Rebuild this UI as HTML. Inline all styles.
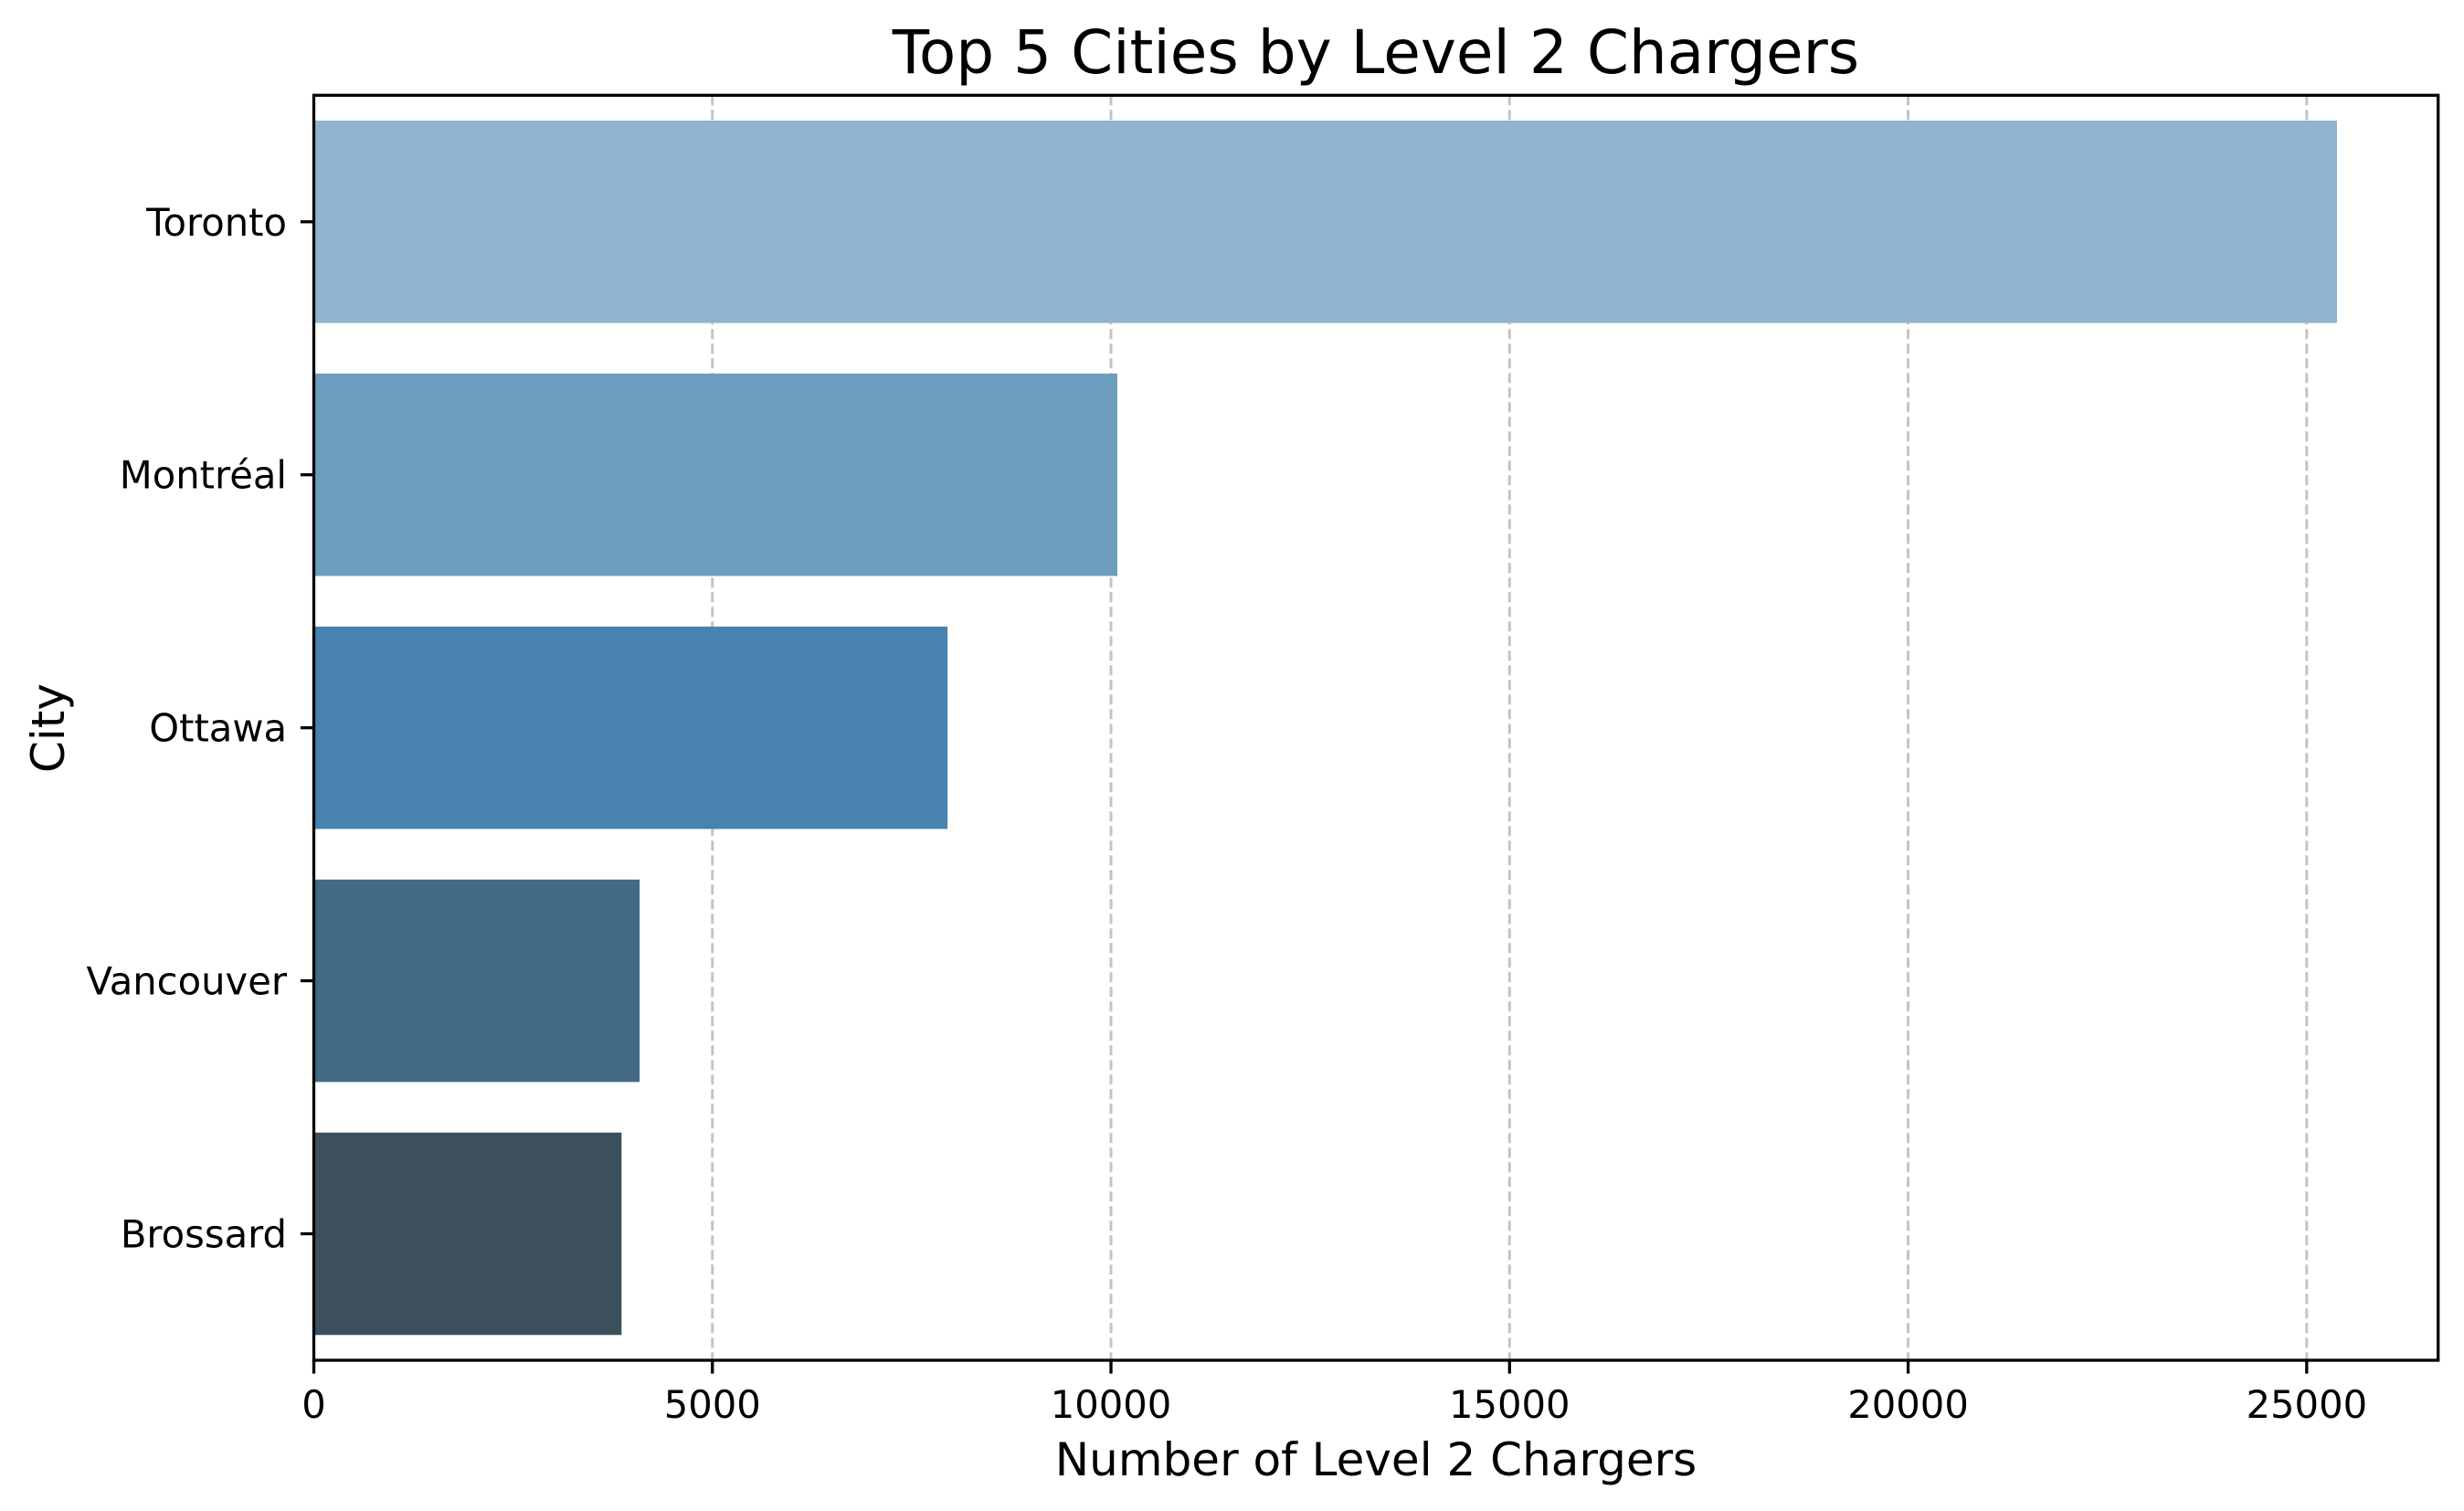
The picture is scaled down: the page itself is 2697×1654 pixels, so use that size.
<!DOCTYPE html>
<html><head><meta charset="utf-8"><style>
html,body{margin:0;padding:0;background:#fff;}
svg{display:block;font-family:"DejaVu Sans","Liberation Sans",sans-serif;}
</style></head><body>
<svg id="chart" width="2697" height="1654" viewBox="0 0 2697 1654" xmlns="http://www.w3.org/2000/svg">
<rect width="2697" height="1654" fill="#fff"/>
<g id="grid"></g>
<g id="bars"></g>
<g id="axes"></g>
<text x="1506" y="80" font-size="66" text-anchor="middle">Top 5 Cities by Level 2 Chargers</text>
<text x="1506" y="1615" font-size="50" text-anchor="middle">Number of Level 2 Chargers</text>
<text x="0" y="0" font-size="50" text-anchor="middle" transform="translate(70,797) rotate(-90)">City</text>
</svg>
<script>
const categories = ["Toronto", "Montréal", "Ottawa", "Vancouver", "Brossard"];
const values = [25380, 10080, 7950, 4087, 3860];
const xTicks = [0, 5000, 10000, 15000, 20000, 25000];
const colors = ["#91b4ce", "#6b9dbf", "#4882ae", "#426a85", "#3c4f5d"];

const NS = "http://www.w3.org/2000/svg";
const L = 343.5, R = 2668.7, T = 104.3, B = 1489;
const xMax = Math.max(...values) * 1.05;
const xs = v => L + v / xMax * (R - L);
const step = (B - T) / categories.length;
const yc = i => T + (i + 0.5) * step;

function mk(tag, attrs, parent) {
  const e = document.createElementNS(NS, tag);
  for (const k in attrs) e.setAttribute(k, attrs[k]);
  parent.appendChild(e);
  return e;
}
const grid = document.getElementById('grid');
const bars = document.getElementById('bars');
const axes = document.getElementById('axes');

xTicks.forEach(t => {
  const x = xs(t);
  const g = mk('line', {x1: x, x2: x, y1: T, y2: B, stroke: '#c4c4c4', 'stroke-width': 3, 'stroke-dasharray': '11 5'}, grid);
  
  
  const tk = mk('line', {x1: x, x2: x, y1: B, y2: B + 14.6, stroke: '#000', 'stroke-width': 3.3}, axes);
  
  
  const lb = mk('text', {x: x, y: 1552, 'font-size': 41.7, 'text-anchor': 'middle'}, axes);
  lb.textContent = String(t);
  
  
});

categories.forEach((c, i) => {
  const h = step * 0.8;
  const r = mk('rect', {x: xs(0), y: yc(i) - h / 2, width: xs(values[i]) - xs(0), height: h, fill: colors[i]}, bars);
  
  
  const tk = mk('line', {x1: L - 14.6, x2: L, y1: yc(i), y2: yc(i), stroke: '#000', 'stroke-width': 3.3}, axes);
  
  
  const lb = mk('text', {x: L - 29.5, y: yc(i) + 15, 'font-size': 41.7, 'text-anchor': 'end'}, axes);
  lb.textContent = c;
  
  
});

const frame = mk('rect', {x: L, y: T, width: R - L, height: B - T, fill: 'none', stroke: '#000', 'stroke-width': 3.3}, axes);


</script>
</body></html>
